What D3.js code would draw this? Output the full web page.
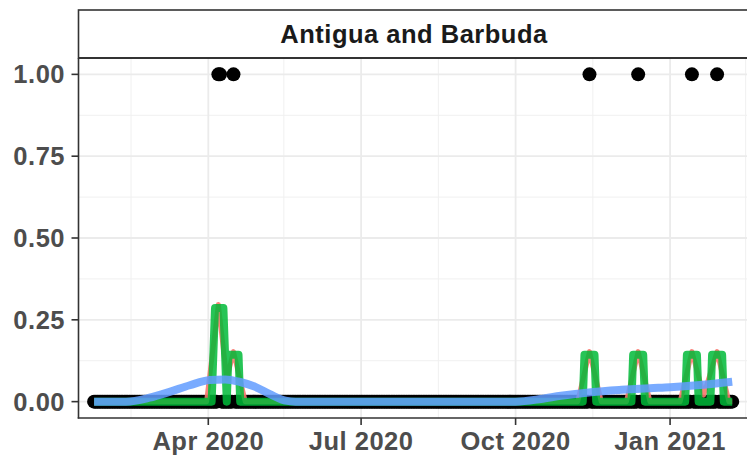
<!DOCTYPE html>
<html>
<head>
<meta charset="utf-8">
<script src="https://cdn.jsdelivr.net/npm/d3@7"></script>
<style>
  html, body { margin: 0; padding: 0; background: #fff; }
  svg { display: block; }
  text { font-family: "Liberation Sans", Arial, Helvetica, sans-serif; font-weight: bold; letter-spacing: 0.5px; }
</style>
</head>
<body>
<svg id="chart" width="747" height="456"></svg>
<script>
// ---------------- data ----------------
const facetTitle = "Antigua and Barbuda";
const firstDay = "2020-01-24";
const lastDay = "2021-02-07";
// days where the indicator equals 1 (all other days are 0)
const eventDays = ["2020-04-07", "2020-04-08", "2020-04-16", "2020-11-14", "2020-12-13", "2021-01-14", "2021-01-29"];

// green line (7-day centred mean), key points
const greenLine = [
  ["2020-01-24", 0], ["2020-04-03", 0], ["2020-04-04", 0.143], ["2020-04-05", 0.286],
  ["2020-04-10", 0.286], ["2020-04-11", 0.143], ["2020-04-12", 0], ["2020-04-13", 0.143],
  ["2020-04-19", 0.143], ["2020-04-20", 0],
  ["2020-11-10", 0], ["2020-11-11", 0.143], ["2020-11-17", 0.143], ["2020-11-18", 0],
  ["2020-12-09", 0], ["2020-12-10", 0.143], ["2020-12-16", 0.143], ["2020-12-17", 0],
  ["2021-01-10", 0], ["2021-01-11", 0.143], ["2021-01-17", 0.143], ["2021-01-18", 0],
  ["2021-01-25", 0], ["2021-01-26", 0.143], ["2021-02-01", 0.143], ["2021-02-02", 0],
  ["2021-02-07", 0]
];

// red line, key points (mostly hidden below green)
const redLine = [
  ["2020-01-24", 0], ["2020-03-31", 0], ["2020-04-07", 0.297], ["2020-04-12", 0.07],
  ["2020-04-16", 0.153], ["2020-04-23", 0],
  ["2020-11-07", 0], ["2020-11-14", 0.153], ["2020-11-21", 0],
  ["2020-12-06", 0], ["2020-12-13", 0.153], ["2020-12-20", 0],
  ["2021-01-07", 0], ["2021-01-14", 0.153], ["2021-01-21", 0.02],
  ["2021-01-29", 0.153], ["2021-02-05", 0], ["2021-02-07", 0]
];

// blue smooth, key points
const blueLine = [
  ["2020-01-24", 0], ["2020-02-12", 0], ["2020-02-26", 0.012], ["2020-03-09", 0.03],
  ["2020-03-21", 0.05], ["2020-04-02", 0.066], ["2020-04-11", 0.068], ["2020-04-20", 0.06],
  ["2020-04-29", 0.045], ["2020-05-08", 0.022], ["2020-05-17", 0.003], ["2020-05-23", 0],
  ["2020-10-01", 0], ["2020-10-16", 0.008], ["2020-10-28", 0.018], ["2020-11-15", 0.029],
  ["2020-12-03", 0.036], ["2020-12-20", 0.041], ["2021-01-01", 0.044], ["2021-01-19", 0.051],
  ["2021-02-07", 0.061]
];

const xLimits = ["2020-01-14T17:00", "2021-02-17T07:00"];
const xMajorTicks = ["2020-04-01", "2020-07-01", "2020-10-01", "2021-01-01"];
const xMinorTicks = ["2020-02-15", "2020-05-16", "2020-08-16", "2020-11-16", "2021-02-15"];
const yMajorTicks = [0, 0.25, 0.5, 0.75, 1];
const yMinorTicks = [0.125, 0.375, 0.625, 0.875];
const yLimits = [-0.05, 1.05];

// ---------------- layout ----------------
const panel = { left: 78.5, right: 749.5, top: 58, bottom: 418 };
const strip = { top: 10, bottom: 58 };
const fontSize = 25.5;

const parseDay = d3.utcParse("%Y-%m-%d");
const parseTime = d3.utcParse("%Y-%m-%dT%H:%M");
const fmtDay = d3.utcFormat("%Y-%m-%d");

const x = d3.scaleUtc().domain(xLimits.map(parseTime)).range([panel.left, panel.right]);
const y = d3.scaleLinear().domain(yLimits).range([panel.bottom, panel.top]);

const svg = d3.select("#chart");

svg.append("rect").attr("x", panel.left).attr("y", panel.top)
  .attr("width", panel.right - panel.left).attr("height", panel.bottom - panel.top)
  .attr("fill", "#fff");

svg.append("clipPath").attr("id", "clip").append("rect")
  .attr("x", panel.left).attr("y", panel.top)
  .attr("width", panel.right - panel.left).attr("height", panel.bottom - panel.top);

const grid = svg.append("g");
grid.selectAll(".ymin").data(yMinorTicks).join("line")
  .attr("x1", panel.left).attr("x2", panel.right)
  .attr("y1", d => y(d)).attr("y2", d => y(d))
  .attr("stroke", "#F0F0F0").attr("stroke-width", 1);
grid.selectAll(".xmin").data(xMinorTicks).join("line")
  .attr("x1", d => x(parseDay(d))).attr("x2", d => x(parseDay(d)))
  .attr("y1", panel.top).attr("y2", panel.bottom)
  .attr("stroke", "#F0F0F0").attr("stroke-width", 1);
grid.selectAll(".ymaj").data(yMajorTicks).join("line")
  .attr("x1", panel.left).attr("x2", panel.right)
  .attr("y1", d => y(d)).attr("y2", d => y(d))
  .attr("stroke", "#EBEBEB").attr("stroke-width", 1.8);
grid.selectAll(".xmaj").data(xMajorTicks).join("line")
  .attr("x1", d => x(parseDay(d))).attr("x2", d => x(parseDay(d)))
  .attr("y1", panel.top).attr("y2", panel.bottom)
  .attr("stroke", "#EBEBEB").attr("stroke-width", 1.8);

const plot = svg.append("g").attr("clip-path", "url(#clip)");

// daily points
const eventSet = new Set(eventDays);
const days = d3.utcDay.range(parseDay(firstDay), d3.utcDay.offset(parseDay(lastDay), 1));
const points = days.map(d => ({ date: d, value: eventSet.has(fmtDay(d)) ? 1 : 0 }));
plot.selectAll("circle.pt").data(points).join("circle")
  .attr("cx", d => x(d.date)).attr("cy", d => y(d.value)).attr("r", 7)
  .attr("fill", "#000");

const line = d3.line().x(d => x(parseDay(d[0]))).y(d => y(d[1]));

plot.append("path").datum(redLine)
  .attr("d", line).attr("fill", "none")
  .attr("stroke", "#F8766D").attr("stroke-width", 5)
  .attr("stroke-linejoin", "round")
  .attr("opacity", 0.9);

plot.append("path").datum(greenLine)
  .attr("d", line).attr("fill", "none")
  .attr("stroke", "#00BA38").attr("stroke-width", 8)
  .attr("stroke-linejoin", "round").attr("stroke-linecap", "butt")
  .attr("opacity", 0.85);

const smooth = d3.line().x(d => x(parseDay(d[0]))).y(d => y(d[1])).curve(d3.curveMonotoneX);
plot.append("path").datum(blueLine)
  .attr("d", smooth).attr("fill", "none")
  .attr("stroke", "#619CFF").attr("stroke-width", 8)
  .attr("stroke-linejoin", "round").attr("stroke-linecap", "butt")
  .attr("opacity", 0.85);

// axes
const axisColor = "#333333";
svg.append("line").attr("x1", panel.left).attr("x2", panel.left)
  .attr("y1", panel.top).attr("y2", panel.bottom + 0.6)
  .attr("stroke", axisColor).attr("stroke-width", 1.6);
svg.append("line").attr("x1", panel.left - 0.8).attr("x2", panel.right)
  .attr("y1", panel.bottom).attr("y2", panel.bottom)
  .attr("stroke", axisColor).attr("stroke-width", 1.6);

const yAxis = svg.append("g");
yAxis.selectAll("line").data(yMajorTicks).join("line")
  .attr("x1", panel.left - 7).attr("x2", panel.left)
  .attr("y1", d => y(d)).attr("y2", d => y(d))
  .attr("stroke", axisColor).attr("stroke-width", 1.6);
yAxis.selectAll("text").data(yMajorTicks).join("text")
  .attr("x", panel.left - 13.5).attr("y", d => y(d) + 9)
  .attr("text-anchor", "end").attr("font-size", fontSize).attr("fill", "#4D4D4D")
  .text(d => d3.format(".2f")(d));

const xAxis = svg.append("g");
const fmtMonth = d3.utcFormat("%b %Y");
xAxis.selectAll("line").data(xMajorTicks).join("line")
  .attr("x1", d => x(parseDay(d))).attr("x2", d => x(parseDay(d)))
  .attr("y1", panel.bottom).attr("y2", panel.bottom + 7)
  .attr("stroke", axisColor).attr("stroke-width", 1.6);
xAxis.selectAll("text").data(xMajorTicks).join("text")
  .attr("x", d => x(parseDay(d))).attr("y", 449.5)
  .attr("text-anchor", "middle").attr("font-size", fontSize).attr("fill", "#4D4D4D")
  .text(d => fmtMonth(parseDay(d)));

// strip
svg.append("rect").attr("x", panel.left).attr("y", strip.top)
  .attr("width", panel.right - panel.left + 5).attr("height", strip.bottom - strip.top)
  .attr("fill", "#fff").attr("stroke", axisColor).attr("stroke-width", 1.6);
svg.append("line").attr("x1", panel.left).attr("x2", panel.right + 5)
  .attr("y1", strip.bottom).attr("y2", strip.bottom)
  .attr("stroke", axisColor).attr("stroke-width", 2.2);
svg.append("text").attr("x", (panel.left + panel.right) / 2).attr("y", 43)
  .attr("text-anchor", "middle").attr("font-size", fontSize).attr("fill", "#1A1A1A")
  .text(facetTitle);
</script>
</body>
</html>
